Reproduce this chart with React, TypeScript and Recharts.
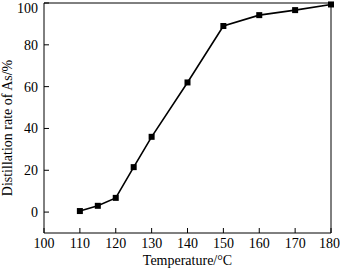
import { LineChart, Line, XAxis, YAxis, ReferenceLine } from 'recharts';

const temperatures = [110, 115, 120, 125, 130, 140, 150, 160, 170, 180];
const distillationRate = [0.5, 3, 6.8, 21.5, 36, 62, 89, 94.2, 96.6, 99.3];
const xTicks = [100, 110, 120, 130, 140, 150, 160, 170, 180];
const yTicks = [0, 20, 40, 60, 80, 100];

const data = temperatures.map((t, i) => ({ t, rate: distillationRate[i] }));

const font = '"Liberation Serif", "Times New Roman", serif';
const tickStyle = { fill: '#000', fontSize: 14, fontFamily: font };

const SquareDot = (props: any) => {
    const { cx, cy } = props;
    if (cx == null || cy == null) return null;
    return <rect x={cx - 3} y={cy - 3} width={6} height={6} fill="#000" />;
};

export default function App() {
    return (
        <div style={{ position: 'fixed', left: 0, top: 0, background: '#fff' }}>
            <LineChart width={340} height={268} data={data} margin={{ top: 3, right: 9, left: 0, bottom: 0 }}>
                <XAxis
                    dataKey="t"
                    type="number"
                    domain={[100, 180]}
                    ticks={xTicks}
                    stroke="#000"
                    tickSize={-5}
                    tickMargin={10}
                    height={35}
                    tick={tickStyle}
                    label={{ value: 'Temperature/°C', position: 'insideBottom', offset: 3, style: { ...tickStyle, textAnchor: 'middle' } }}
                />
                <YAxis
                    type="number"
                    domain={[-10, 100]}
                    ticks={yTicks}
                    stroke="#000"
                    tickSize={-5}
                    tickMargin={11}
                    width={44}
                    tick={tickStyle}
                    label={{ value: 'Distillation rate of As/%', angle: -90, position: 'insideLeft', offset: 0, dx: 7, dy: 10, style: { ...tickStyle, textAnchor: 'middle' } }}
                />
                {/* box frame: top and right edges */}
                <ReferenceLine y={100} stroke="#000" strokeWidth={1} ifOverflow="visible" />
                <ReferenceLine x={180} stroke="#000" strokeWidth={1} ifOverflow="visible" />
                <Line
                    dataKey="rate"
                    stroke="#000"
                    strokeWidth={1.6}
                    dot={<SquareDot />}
                    activeDot={false}
                    isAnimationActive={false}
                />
            </LineChart>
        </div>
    );
}
